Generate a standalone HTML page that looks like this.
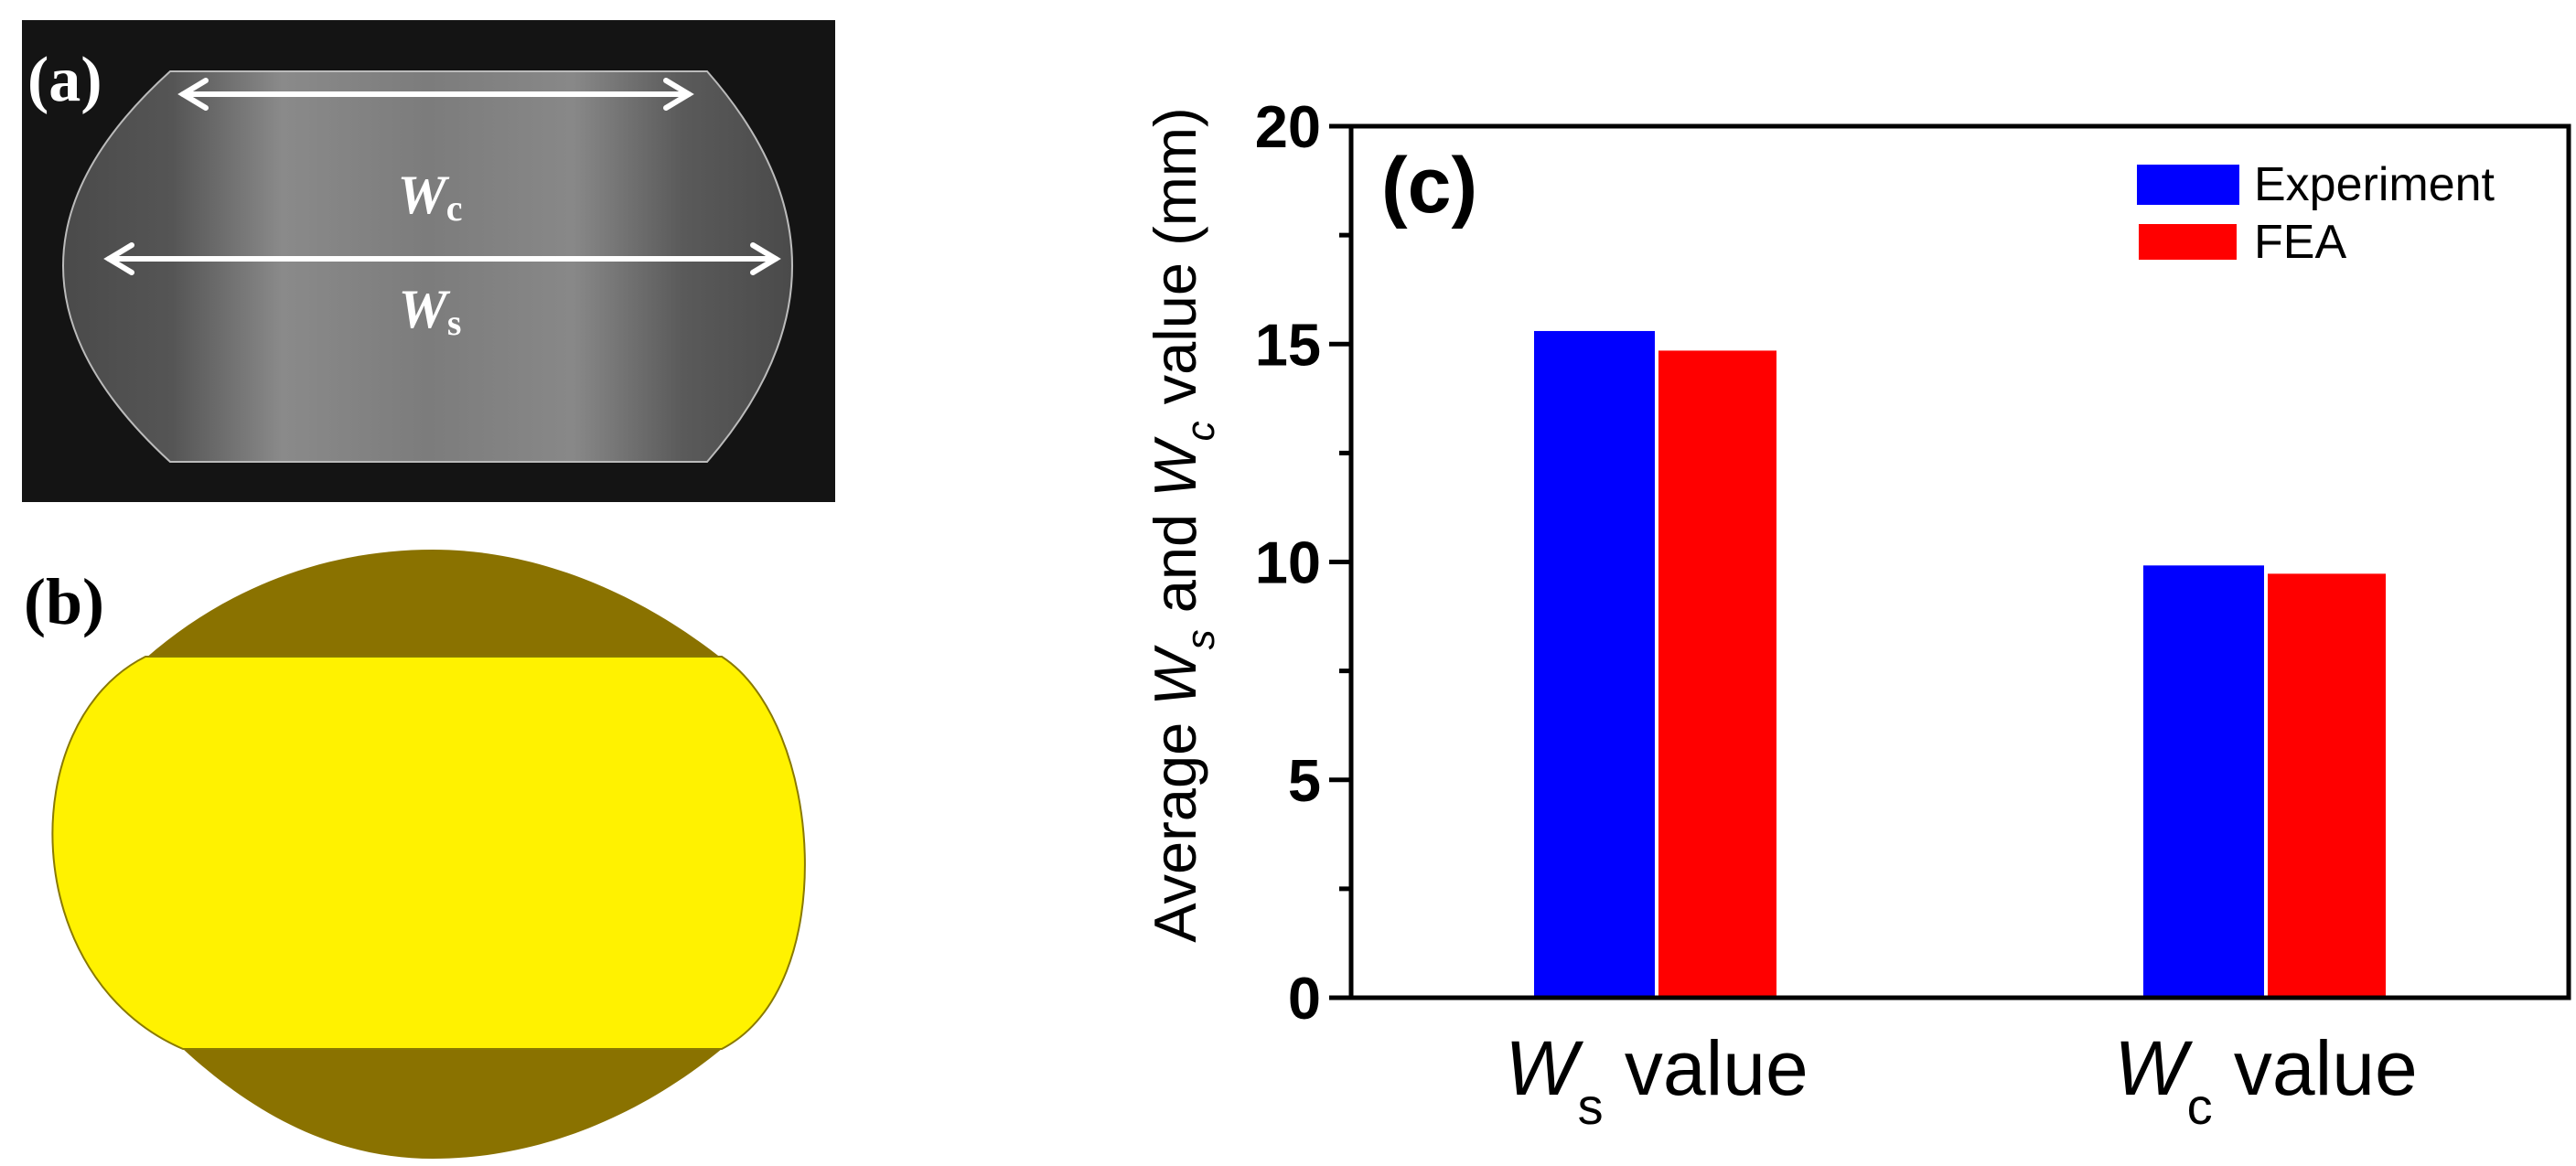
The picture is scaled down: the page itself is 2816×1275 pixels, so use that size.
<!DOCTYPE html>
<html><head><meta charset="utf-8"><style>
html,body{margin:0;padding:0;background:#fff;}
svg{display:block;}
</style></head><body>
<svg id="fig" width="2816" height="1275" viewBox="0 0 2816 1275" xmlns="http://www.w3.org/2000/svg">
<defs>
<linearGradient id="spec" x1="0" x2="1" y1="0" y2="0">
<stop offset="0" stop-color="#4a4a4a"/><stop offset="0.15" stop-color="#555"/><stop offset="0.3" stop-color="#8a8a8a"/><stop offset="0.5" stop-color="#7c7c7c"/><stop offset="0.7" stop-color="#888"/><stop offset="0.85" stop-color="#5a5a5a"/><stop offset="1" stop-color="#4a4a4a"/>
</linearGradient>
</defs>
<g>
<rect x="24" y="22" width="889" height="527" fill="#141414"/>
<path d="M186 78 L773 78 Q959 290 773 505 L186 505 Q-48 290 186 78 Z" fill="url(#spec)" stroke="#bbb" stroke-width="2"/>
<g stroke="#fff" stroke-width="6" fill="none" stroke-linecap="round">
<line x1="200" y1="103" x2="753" y2="103"/><polyline points="225,88 200,103 225,118"/><polyline points="728,88 753,103 728,118"/>
</g>
<g stroke="#fff" stroke-width="6" fill="none" stroke-linecap="round">
<line x1="119" y1="283" x2="848" y2="283"/><polyline points="144,268 119,283 144,298"/><polyline points="823,268 848,283 823,298"/>
</g>
<text x="470" y="233" text-anchor="middle" font-family="Liberation Serif, serif" font-weight="bold" font-size="60" fill="#fff"><tspan font-style="italic">W</tspan><tspan font-size="40" dy="8">c</tspan></text>
<text x="470" y="358" text-anchor="middle" font-family="Liberation Serif, serif" font-weight="bold" font-size="60" fill="#fff"><tspan font-style="italic">W</tspan><tspan font-size="40" dy="8">s</tspan></text>
<text x="30" y="110" font-family="Liberation Serif, serif" font-weight="bold" font-size="70" fill="#fff">(a)</text>
</g>
<g>
<path d="M159 720 C250 640 360 601 473 601 C590 601 700 650 789 720 Z" fill="#8a7200"/>
<path d="M200 1147 C290 1230 380 1267 473 1267 C590 1267 700 1220 789 1147 Z" fill="#8a7200"/>
<path d="M159 718 L789 718 C900 790 920 1080 789 1147 L200 1147 C20 1070 15 790 159 718 Z" fill="#fff200" stroke="#8a7a00" stroke-width="2"/>
<text x="26" y="682" font-family="Liberation Serif, serif" font-weight="bold" font-size="72" fill="#000">(b)</text>
</g>
<g id="chart"></g>
</svg>
<script>
const categories = ["Ws", "Wc"];
const experimentValues = [15.3, 9.92];
const feaValues = [14.85, 9.73];
const yTicks = [0, 5, 10, 15, 20];
const legendLabels = ["Experiment", "FEA"];

const NS = "http://www.w3.org/2000/svg";
const g = document.getElementById("chart");
const X0 = 1477, X1 = 2808, Y0 = 1091, Y1 = 138, YMAX = 20;
const yScale = v => Y0 - (v / YMAX) * (Y0 - Y1);
const groupCenters = [1811, 2477];
const xScale = i => groupCenters[i];
const BW = 132, GAP = 4;
function mk(tag, attrs) { const e = document.createElementNS(NS, tag); for (const k in attrs) e.setAttribute(k, attrs[k]); g.appendChild(e); return e; }

experimentValues.forEach((v, i) => {
  const r = mk("rect", {x: xScale(i) - GAP/2 - BW, y: yScale(v), width: BW, height: Y0 - yScale(v), fill: "#0000ff"});
  
  
});
feaValues.forEach((v, i) => {
  const r = mk("rect", {x: xScale(i) + GAP/2, y: yScale(v), width: BW - 3, height: Y0 - yScale(v), fill: "#ff0000"});
  
  
});

const frame = mk("rect", {x: X0, y: Y1, width: X1 - X0, height: Y0 - Y1, fill: "none", stroke: "#000", "stroke-width": 5});



yTicks.forEach(t => {
  const y = yScale(t);
  const tk = mk("line", {x1: X0 - 24, x2: X0, y1: y, y2: y, stroke: "#000", "stroke-width": 5});
  
  
  const lb = mk("text", {x: 1444, y: y + 23, "text-anchor": "end", "font-family": "Liberation Sans, sans-serif", "font-weight": "bold", "font-size": 65});
  lb.textContent = t;
  
  
});
for (let i = 0; i < yTicks.length - 1; i++) {
  const y = yScale((yTicks[i] + yTicks[i + 1]) / 2);
  const mt = mk("line", {x1: X0 - 13, x2: X0, y1: y, y2: y, stroke: "#000", "stroke-width": 5});
  
  
}

categories.forEach((c, i) => {
  const t = mk("text", {x: xScale(i), y: 1197, "text-anchor": "middle", "font-family": "Liberation Sans, sans-serif", "font-size": 84});
  t.innerHTML = '<tspan font-style="italic">W</tspan><tspan font-size="56" dy="32">' + c[1] + '</tspan><tspan dy="-32"> value</tspan>';
  
  
});

const yl = mk("text", {x: 0, y: 0, transform: "translate(1307,574) rotate(-90)", "text-anchor": "middle", "font-family": "Liberation Sans, sans-serif", "font-size": 65});
yl.innerHTML = 'Average <tspan font-style="italic">W</tspan><tspan font-style="italic" font-size="44" dy="20">s</tspan><tspan dy="-20"> and </tspan><tspan font-style="italic">W</tspan><tspan font-style="italic" font-size="44" dy="20">c</tspan><tspan dy="-20"> value (mm)</tspan>';



const pc = mk("text", {x: 1510, y: 232, "font-family": "Liberation Sans, sans-serif", "font-weight": "bold", "font-size": 86});
pc.textContent = "(c)";



const legendColors = ["#0000ff", "#ff0000"];
const legendBoxes = [[2336, 180, 112, 44], [2338, 245, 107, 39]];
legendLabels.forEach((l, i) => {
  const b = legendBoxes[i];
  const sw = mk("rect", {x: b[0], y: b[1], width: b[2], height: b[3], fill: legendColors[i]});
  
  
  const tx = mk("text", {x: 2464, y: i === 0 ? 219 : 282, "font-family": "Liberation Sans, sans-serif", "font-size": 52});
  tx.textContent = l;
  
  
});
</script>
</body></html>
